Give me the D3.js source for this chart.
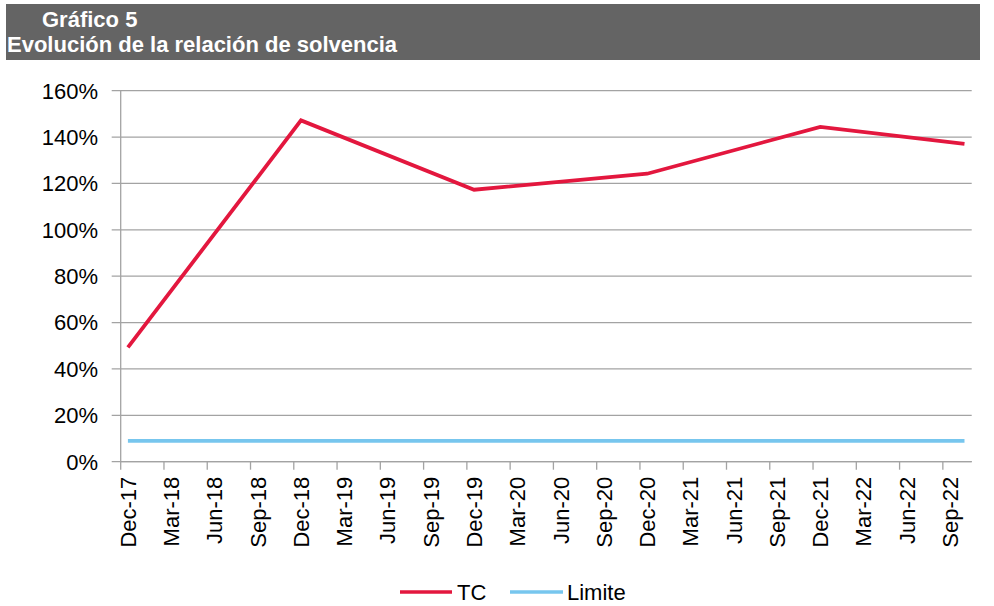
<!DOCTYPE html>
<html>
<head>
<meta charset="utf-8">
<script src="https://cdn.jsdelivr.net/npm/d3@7"></script>
<style>
  html, body { margin: 0; padding: 0; background: #fff; }
  svg { display: block; font-family: Arial, "Liberation Sans", sans-serif; }
</style>
</head>
<body>
<svg id="chart" width="994" height="606"></svg>
<script>
// ---- Data ----
const titleLine1 = "Gráfico 5";
const titleLine2 = "Evolución de la relación de solvencia";

// Monthly categories (axis shows every 3rd label)
const months = [
  "Dec-17","Jan-18","Feb-18","Mar-18","Apr-18","May-18","Jun-18","Jul-18","Aug-18","Sep-18","Oct-18","Nov-18",
  "Dec-18","Jan-19","Feb-19","Mar-19","Apr-19","May-19","Jun-19","Jul-19","Aug-19","Sep-19","Oct-19","Nov-19",
  "Dec-19","Jan-20","Feb-20","Mar-20","Apr-20","May-20","Jun-20","Jul-20","Aug-20","Sep-20","Oct-20","Nov-20",
  "Dec-20","Jan-21","Feb-21","Mar-21","Apr-21","May-21","Jun-21","Jul-21","Aug-21","Sep-21","Oct-21","Nov-21",
  "Dec-21","Jan-22","Feb-22","Mar-22","Apr-22","May-22","Jun-22","Jul-22","Aug-22","Sep-22","Oct-22"
];
const tickLabels = [
  "Dec-17","Mar-18","Jun-18","Sep-18","Dec-18","Mar-19","Jun-19","Sep-19","Dec-19","Mar-20",
  "Jun-20","Sep-20","Dec-20","Mar-21","Jun-21","Sep-21","Dec-21","Mar-22","Jun-22","Sep-22"
];
// TC observations (percent), only reported months
const tcMonths = ["Dec-17","Dec-18","Dec-19","Dec-20","Dec-21","Oct-22"];
const tcValues = [49.3, 147.2, 117.3, 124.2, 144.4, 137.1];
// Regulatory limit (percent)
const limiteMonths = ["Dec-17","Oct-22"];
const limiteValues = [9, 9];

const yTicks = [0, 20, 40, 60, 80, 100, 120, 140, 160];
const seriesNames = ["TC", "Limite"];
const seriesColors = ["#E3173E", "#77C6EE"];

// ---- Drawing ----
const svg = d3.select("#chart");

// Header
svg.append("rect").attr("x", 6).attr("y", 4).attr("width", 974).attr("height", 56).attr("fill", "#646464");
svg.append("text").attr("x", 42).attr("y", 27).attr("fill", "#fff")
  .attr("font-size", 22).attr("font-weight", "bold").text(titleLine1);
svg.append("text").attr("x", 7).attr("y", 52).attr("fill", "#fff")
  .attr("font-size", 22).attr("font-weight", "bold").text(titleLine2);

const plotLeft = 120.7, plotRight = 971.7, plotTop = 90.7, plotBottom = 461.7;

const x = d3.scaleBand().domain(months).range([plotLeft, plotRight]).padding(0);
const y = d3.scaleLinear().domain([0, 160]).range([plotBottom, plotTop]);

const gridColor = "#A3A3A3";

// Gridlines + y labels
const gy = svg.append("g");
gy.selectAll("line.grid").data(yTicks).join("line")
  .attr("x1", plotLeft - 9).attr("x2", plotRight)
  .attr("y1", d => y(d)).attr("y2", d => y(d))
  .attr("stroke", gridColor).attr("stroke-width", 1.3);
gy.selectAll("text").data(yTicks).join("text")
  .attr("x", 98).attr("y", d => y(d)).attr("dy", "0.36em")
  .attr("text-anchor", "end").attr("font-size", 22).attr("fill", "#000")
  .text(d => d + "%");

// Y axis line
svg.append("line").attr("x1", plotLeft).attr("x2", plotLeft).attr("y1", plotTop).attr("y2", plotBottom)
  .attr("stroke", gridColor).attr("stroke-width", 1.3);

// X axis line
svg.append("line").attr("x1", plotLeft).attr("x2", plotRight).attr("y1", plotBottom).attr("y2", plotBottom)
  .attr("stroke", gridColor).attr("stroke-width", 1.3);

// X ticks (at category boundaries) + labels (at category centres)
const gx = svg.append("g");
gx.selectAll("line").data(tickLabels).join("line")
  .attr("x1", d => x(d)).attr("x2", d => x(d))
  .attr("y1", plotBottom).attr("y2", plotBottom + 8)
  .attr("stroke", gridColor).attr("stroke-width", 1.3);
gx.selectAll("text").data(tickLabels).join("text")
  .attr("transform", d => `translate(${x(d) + x.bandwidth() / 2},${plotBottom + 15}) rotate(-90)`)
  .attr("dy", "0.36em").attr("text-anchor", "end")
  .attr("font-size", 22).attr("fill", "#000")
  .text(d => d);

// Lines
const line = d3.line().x(d => x(d.m) + x.bandwidth() / 2).y(d => y(d.v));
const limiteData = limiteMonths.map((m, i) => ({ m, v: limiteValues[i] }));
const tcData = tcMonths.map((m, i) => ({ m, v: tcValues[i] }));

svg.append("path").datum(limiteData).attr("d", line)
  .attr("fill", "none").attr("stroke", seriesColors[1]).attr("stroke-width", 3.7);
svg.append("path").datum(tcData).attr("d", line)
  .attr("fill", "none").attr("stroke", seriesColors[0]).attr("stroke-width", 3.8)
  .attr("stroke-linejoin", "miter");

// Legend
const legendItems = [
  { name: seriesNames[0], color: seriesColors[0], x1: 400, x2: 452, tx: 457 },
  { name: seriesNames[1], color: seriesColors[1], x1: 510, x2: 563, tx: 567 }
];
const lg = svg.append("g");
legendItems.forEach(it => {
  lg.append("line").attr("x1", it.x1).attr("x2", it.x2).attr("y1", 592).attr("y2", 592)
    .attr("stroke", it.color).attr("stroke-width", 3.7);
  lg.append("text").attr("x", it.tx).attr("y", 592).attr("dy", "0.36em")
    .attr("font-size", 22).attr("fill", "#000").text(it.name);
});
</script>
</body>
</html>
